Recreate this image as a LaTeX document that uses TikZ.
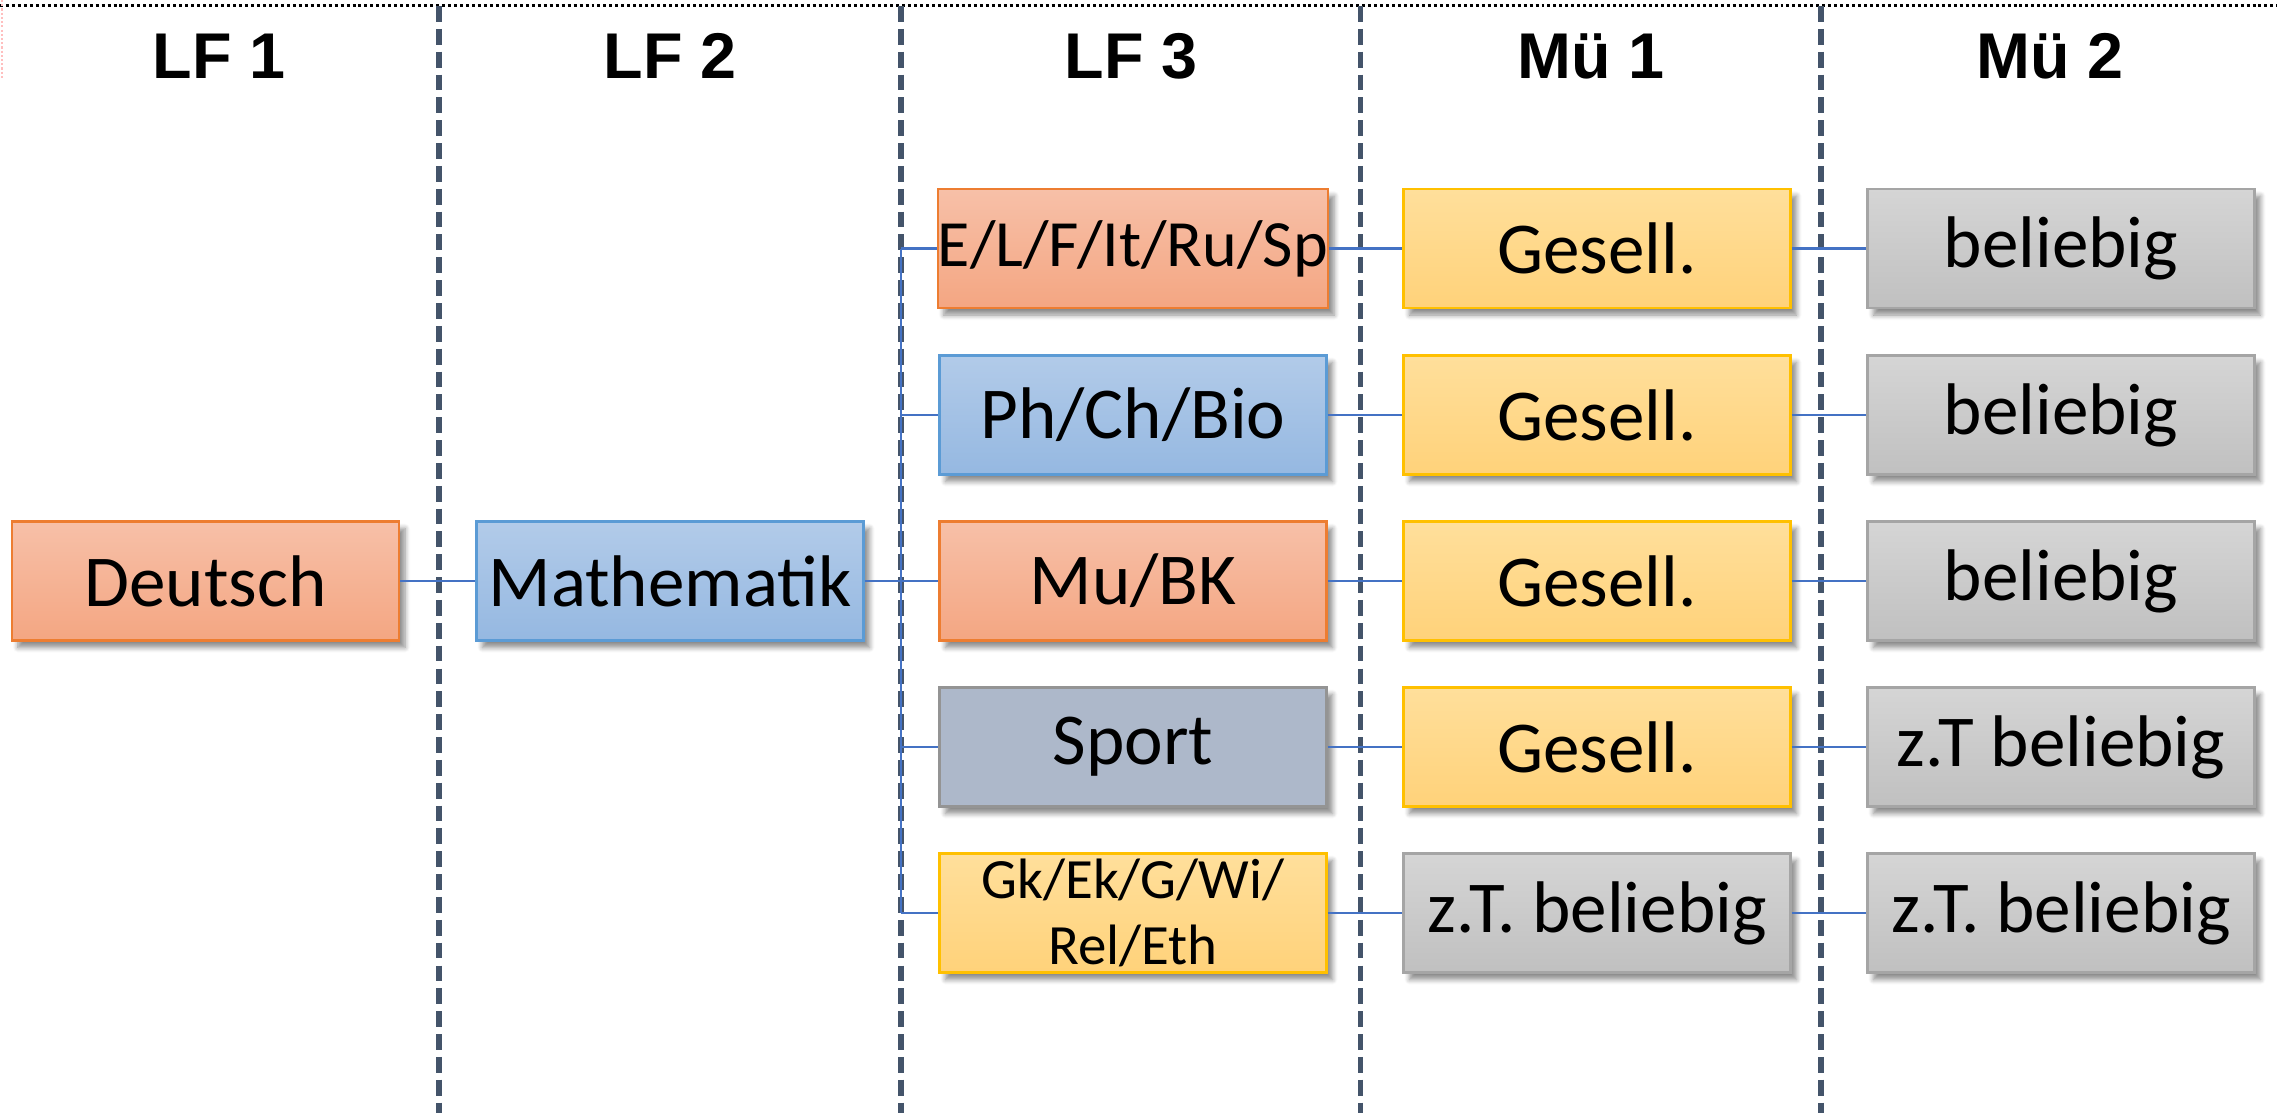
\documentclass[tikz,border=0pt]{standalone}
\usepackage{fontspec}
\setmainfont{Carlito}
\newfontfamily\headfont{Liberation Sans}
\usetikzlibrary{shadows.blur}

\definecolor{linkblue}{RGB}{68,114,196}
\definecolor{sepgray}{RGB}{68,84,106}
\definecolor{orgtop}{RGB}{247,192,168}
\definecolor{orgbot}{RGB}{244,166,130}
\definecolor{orgline}{RGB}{237,125,49}
\definecolor{blutop}{RGB}{178,203,233}
\definecolor{blubot}{RGB}{149,184,225}
\definecolor{bluline}{RGB}{91,155,213}
\definecolor{yeltop}{RGB}{255,223,155}
\definecolor{yelbot}{RGB}{255,210,122}
\definecolor{yelline}{RGB}{255,192,0}
\definecolor{grytop}{RGB}{213,213,213}
\definecolor{grybot}{RGB}{192,192,192}
\definecolor{gryline}{RGB}{165,165,165}
\definecolor{sportfill}{RGB}{173,184,202}

\tikzset{
  subj/.style={draw, line width=0.6pt, minimum width=3.87cm, minimum height=1.19cm,
    inner sep=0pt, align=center, font=\fontsize{20.8}{24}\selectfont,
    blur shadow={shadow xshift=0.06cm, shadow yshift=-0.07cm, shadow blur steps=6,
      shadow blur radius=0.05cm, shadow opacity=45}},
  orgbox/.style={subj, draw=orgline, top color=orgtop, bottom color=orgbot},
  blubox/.style={subj, draw=bluline, top color=blutop, bottom color=blubot},
  yelbox/.style={subj, draw=yelline, top color=yeltop, bottom color=yelbot},
  grybox/.style={subj, draw=gryline, top color=grytop, bottom color=grybot},
  sportbox/.style={subj, draw=gryline!90!black, fill=sportfill},
  colhead/.style={font=\headfont\bfseries\fontsize{18.4}{20}\selectfont},
  link/.style={draw=linkblue, line width=0.6pt},
  sep/.style={draw=sepgray, line width=1.6pt, dash pattern=on 4.5pt off 2pt}
}

\begin{document}
\begin{tikzpicture}
    \useasboundingbox (0,0) rectangle (22.77,-11.13);
    % frame remains
    \draw[black, line width=0.8pt, dash pattern=on 0.85pt off 0.85pt] (0,-0.055) -- (22.77,-0.055);
    \draw[red!25, line width=0.6pt, dash pattern=on 0.6pt off 0.6pt] (0.02,0) -- (0.02,-0.8);
    % column separators
    \foreach \x in {4.39,9.01,13.605,18.21}
    \draw[sep] (\x,-0.06) -- (\x,-11.13);
    % column heads
    \node[colhead] (hlf1) at (2.19,-0.56) {LF 1};
    \node[colhead] (hlf2) at (6.70,-0.56) {LF 2};
    \node[colhead] (hlf3) at (11.31,-0.56) {LF 3};
    \node[colhead] (hmu1) at (15.91,-0.56) {Mü 1};
    \node[colhead] (hmu2) at (20.50,-0.56) {Mü 2};
    % subjects
    \node[orgbox] (deutsch) at (2.055,-5.81) {Deutsch};
    \node[blubox] (mathe) at (6.70,-5.81) {Mathematik};

    \node[orgbox, font=\fontsize{18.8}{22}\selectfont] (lfa) at (11.33,-2.485) {E/L/F/It/Ru/Sp};
    \node[blubox] (lfb) at (11.33,-4.15) {Ph/Ch/Bio};
    \node[orgbox] (lfc) at (11.33,-5.81) {Mu/BK};
    \node[sportbox] (lfd) at (11.33,-7.47) {Sport};
    \node[yelbox, font=\fontsize{16.2}{18.6}\selectfont] (lfe) at (11.33,-9.13) {Gk/Ek/G/Wi/\\Rel/Eth};

    \node[yelbox] (mua) at (15.97,-2.485) {Gesell.};
    \node[yelbox] (mub) at (15.97,-4.15) {Gesell.};
    \node[yelbox] (muc) at (15.97,-5.81) {Gesell.};
    \node[yelbox] (mud) at (15.97,-7.47) {Gesell.};
    \node[grybox] (mue) at (15.97,-9.13) {z.T. beliebig};

    \node[grybox] (mza) at (20.61,-2.485) {beliebig};
    \node[grybox] (mzb) at (20.61,-4.15) {beliebig};
    \node[grybox] (mzc) at (20.61,-5.81) {beliebig};
    \node[grybox] (mzd) at (20.61,-7.47) {z.T beliebig};
    \node[grybox] (mze) at (20.61,-9.13) {z.T. beliebig};
    % links
    \coordinate (bus) at (9.01,-5.81);
    \draw[link] (deutsch) -- (mathe);
    \draw[link] (mathe) -- (lfc);
    \draw[link] (bus|-lfa) -- (bus|-lfe);
    \foreach \r in {a,b,d,e}
    \draw[link] (bus|-lf\r) -- (lf\r);
    \foreach \r in {a,b,c,d,e}
    {
    \draw[link] (lf\r) -- (mu\r);
    \draw[link] (mu\r) -- (mz\r);
    }
  \end{tikzpicture}
\end{document}
